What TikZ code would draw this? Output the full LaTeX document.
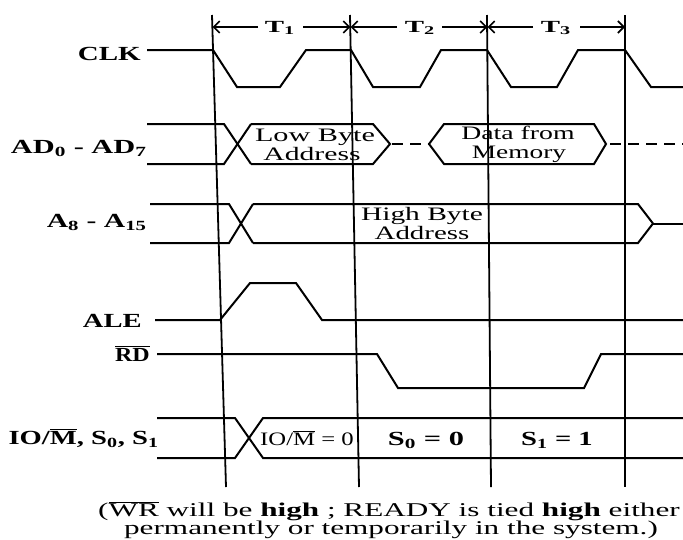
\documentclass[tikz,border=0pt]{standalone}
\usepackage{fontspec}
\setmainfont{Liberation Serif}
\usetikzlibrary{arrows.meta}
\newcommand{\sx}[2]{\scalebox{#1}[1]{#2}}
\begin{document}
\begin{tikzpicture}[x=1pt,y=-1pt,
  sig/.style={line width=2pt, line join=miter},
  tline/.style={line width=1.8pt},
  tarr/.style={line width=1.6pt, -{Straight Barb[length=6pt,width=12pt]}},
  dsh/.style={line width=2pt, dash pattern=on 11pt off 7pt},
  lab/.style={font=\fontsize{20}{23}\selectfont\bfseries, inner sep=0pt, anchor=base east},
  tlab/.style={font=\fontsize{17}{20}\selectfont\bfseries, inner sep=0pt, anchor=base},
  btxt/.style={font=\fontsize{19}{22}\selectfont, inner sep=0pt, anchor=base},
  bbtxt/.style={font=\fontsize{20}{23}\selectfont\bfseries, inner sep=0pt, anchor=base},
  note/.style={font=\fontsize{19.5}{22}\selectfont, inner sep=0pt, anchor=base}]
\useasboundingbox (0,0) rectangle (683,539);

% vertical timing lines
\coordinate (v1t) at (212,15); \coordinate (v1b) at (226,487);
\coordinate (v2t) at (350,15); \coordinate (v2b) at (359,487);
\coordinate (v3t) at (487,15); \coordinate (v3b) at (491,487);
\coordinate (v4t) at (625,15); \coordinate (v4b) at (625,487);
\draw[tline] (v1t) -- (v1b);
\draw[tline] (v2t) -- (v2b);
\draw[tline] (v3t) -- (v3b);
\draw[tline] (v4t) -- (v4b);

% T-state labels and arrows
\node[tlab] (t1) at (280,32) {\sx{1.7}{T\textsubscript{1}}};
\node[tlab] (t2) at (420,32) {\sx{1.7}{T\textsubscript{2}}};
\node[tlab] (t3) at (556,32) {\sx{1.7}{T\textsubscript{3}}};
\draw[tarr] (258,27) -- (212.6,27);
\draw[tarr] (303,27) -- (350.4,27);
\draw[tarr] (397,27) -- (350.6,27);
\draw[tarr] (442,27) -- (487.3,27);
\draw[tarr] (533,27) -- (487.5,27);
\draw[tarr] (580,27) -- (625,27);

% CLK
\node[lab] (clk) at (141,60) {\sx{1.45}{CLK}};
\draw[sig] (147,50) -- (213,50) -- (237,87) -- (280,87) -- (306,50) -- (351,50)
  -- (373,87) -- (420,87) -- (441,50) -- (487,50) -- (511,87) -- (557,87)
  -- (578,50) -- (625,50) -- (651,87) -- (683,87);

% AD0 - AD7
\node[lab] (ad) at (147,153) {\sx{1.52}{AD\textsubscript{0} - AD\textsubscript{7}}};
\draw[sig] (147,124) -- (224,124) -- (251,164);
\draw[sig] (147,164) -- (224,164) -- (251,124);
\draw[sig] (251,124) -- (373,124) -- (390,144) -- (373,164) -- (251,164);
\draw[dsh] (392,144) -- (429,144);
\draw[sig] (429,144) -- (444,124) -- (594,124) -- (606,144) -- (594,164) -- (444,164) -- cycle;
\draw[dsh] (610,144) -- (683,144);
\node[btxt] (lb1) at (315,141) {\sx{1.59}{Low Byte}};
\node[btxt] (lb2) at (312,160) {\sx{1.56}{Address}};
\node[btxt] (dm1) at (518,139) {\sx{1.46}{Data from}};
\node[btxt] (dm2) at (519,158) {\sx{1.44}{Memory}};

% A8 - A15
\node[lab] (ah) at (147,227) {\sx{1.48}{A\textsubscript{8} - A\textsubscript{15}}};
\draw[sig] (150,204) -- (229,204) -- (253,243);
\draw[sig] (150,243) -- (229,243) -- (253,204);
\draw[sig] (253,204) -- (638,204) -- (653,223.5) -- (638,243) -- (253,243);
\draw[sig] (653,223.5) -- (683,223.5);
\node[btxt] (hb1) at (422,220) {\sx{1.55}{High Byte}};
\node[btxt] (hb2) at (422,239) {\sx{1.52}{Address}};

% ALE
\node[lab] (ale) at (142,327) {\sx{1.43}{ALE}};
\draw[sig] (155,320) -- (220,320) -- (250,283) -- (296,283) -- (322,320) -- (683,320);

% RD
\node[lab] (rd) at (150,361) {\sx{1.2}{$\overline{\mbox{RD}}$}};
\draw[sig] (157,354) -- (377,354) -- (398,388) -- (584,388) -- (601,354) -- (683,354);

% IO/M, S0, S1
\node[lab] (io) at (159,444) {\sx{1.43}{IO/$\overline{\mbox{M}}$, S\textsubscript{0}, S\textsubscript{1}}};
\draw[sig] (157,418) -- (235,418) -- (263,458) -- (683,458);
\draw[sig] (157,458) -- (235,458) -- (263,418) -- (683,418);
\node[btxt] (iom) at (307,445) {\sx{1.3}{IO/$\overline{\mbox{M}}$ = 0}};
\node[bbtxt] (s0) at (426,445) {\sx{1.52}{S\textsubscript{0} = 0}};
\node[bbtxt] (s1) at (557,445) {\sx{1.43}{S\textsubscript{1} = 1}};

% note
\node[note] (n1) at (389,516) {\sx{1.6}{($\overline{\mbox{WR}}$ will be \textbf{high} ; READY is tied \textbf{high} either}};
\node[note] (n2) at (391,534) {\sx{1.6}{permanently or temporarily in the system.)}};
\end{tikzpicture}
\end{document}
